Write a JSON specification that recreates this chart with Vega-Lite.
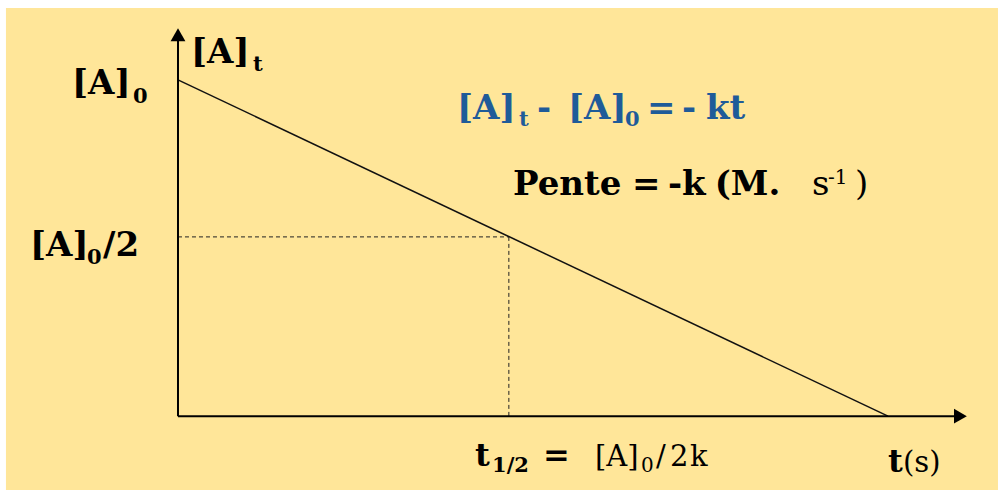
{
  "$schema": "https://vega.github.io/schema/vega-lite/v6.json",
  "width": 998,
  "height": 491,
  "autosize": {"type": "fit", "contains": "padding"},
  "padding": 0,
  "background": "white",
  "config": {"view": {"stroke": null}, "text": {"font": "DejaVu Serif"}},
  "datasets": {
    "panel": [{"t": -24.23, "t2": 115.49, "A": -21.96, "A2": 121.36}],
    "decay": [{"t": 0, "A": 100}, {"t": 100, "A": 0}],
    "guides": [{"t": 0, "A": 53.3, "t2": 46.6, "A2": 53.3}, {"t": 46.6, "A": 53.3, "t2": 46.6, "A2": 0}],
    "axes": [{"t": 0, "A": 0, "t2": 0, "A2": 113.4}, {"t": 0, "A": 0, "t2": 110.2, "A2": 0}],
    "arrowUp": [{"t": 0, "A": 113.4}],
    "arrowRight": [{"t": 110.2, "A": 0}],
    "boldBig": [
      {"t": 1.83, "A": 105.04, "label": "[A]"},
      {"t": -14.93, "A": 95.85, "label": "[A]"},
      {"t": -20.85, "A": 47.48, "label": "[A]"},
      {"t": -10.56, "A": 47.48, "label": "/2"},
      {"t": 47.18, "A": 65.88, "label": "Pente"},
      {"t": 63.94, "A": 65.88, "label": "="},
      {"t": 69.01, "A": 65.88, "label": "-k"},
      {"t": 75.60, "A": 65.88, "label": "(M."}
    ],
    "boldSub": [
      {"t": 10.56, "A": 102.67, "label": "t"},
      {"t": -6.34, "A": 93.18, "label": "0"},
      {"t": -12.82, "A": 45.10, "label": "0"},
      {"t": 44.23, "A": -16.62, "label": "1/2"}
    ],
    "blueBig": [
      {"t": 39.30, "A": 88.43, "label": "[A]"},
      {"t": 50.56, "A": 88.43, "label": "-"},
      {"t": 54.93, "A": 88.43, "label": "[A]"},
      {"t": 66.06, "A": 88.43, "label": "="},
      {"t": 70.99, "A": 88.43, "label": "-"},
      {"t": 74.37, "A": 88.43, "label": "kt"}
    ],
    "blueSub": [
      {"t": 48.03, "A": 86.35, "label": "t"},
      {"t": 62.96, "A": 86.35, "label": "0"}
    ],
    "regBig": [
      {"t": 89.30, "A": 65.88, "label": "s"},
      {"t": 95.35, "A": 65.88, "label": ")"}
    ],
    "regSup": [
      {"t": 91.55, "A": 69.14, "label": "-1"},
      {"t": 65.21, "A": -16.62, "label": "0"}
    ],
    "regMid": [
      {"t": 58.73, "A": -14.84, "label": "[A]"},
      {"t": 67.32, "A": -14.84, "label": "/"},
      {"t": 69.30, "A": -14.84, "label": "2"},
      {"t": 72.11, "A": -14.84, "label": "k"},
      {"t": 102.11, "A": -16.62, "label": "(s)"}
    ],
    "boldMid": [
      {"t": 41.83, "A": -14.84, "label": "t"},
      {"t": 51.41, "A": -14.84, "label": "="},
      {"t": 100.0, "A": -16.62, "label": "t"}
    ]
  },
  "encoding": {
    "x": {"field": "t", "type": "quantitative", "scale": {"domain": [-25.07, 115.493], "nice": false, "zero": false}, "axis": null},
    "y": {"field": "A", "type": "quantitative", "scale": {"domain": [-21.958, 123.739], "nice": false, "zero": false}, "axis": null}
  },
  "layer": [
    {"data": {"name": "panel"}, "mark": {"type": "rect", "color": "#FFE699"}, "encoding": {"x2": {"field": "t2"}, "y2": {"field": "A2"}}},
    {"data": {"name": "guides"}, "mark": {"type": "rule", "color": "#222222", "strokeWidth": 1, "strokeDash": [4, 3]}, "encoding": {"x2": {"field": "t2"}, "y2": {"field": "A2"}}},
    {"data": {"name": "decay"}, "mark": {"type": "line", "color": "#111111", "strokeWidth": 1.5}, "encoding": {}},
    {"data": {"name": "axes"}, "mark": {"type": "rule", "color": "#000000", "strokeWidth": 2}, "encoding": {"x2": {"field": "t2"}, "y2": {"field": "A2"}}},
    {"data": {"name": "arrowUp"}, "mark": {"type": "point", "shape": "triangle-up", "size": 220, "filled": true, "color": "#000000", "opacity": 1}},
    {"data": {"name": "arrowRight"}, "mark": {"type": "point", "shape": "triangle-right", "size": 220, "filled": true, "color": "#000000", "opacity": 1}},
    {"data": {"name": "boldBig"}, "mark": {"type": "text", "align": "left", "baseline": "alphabetic", "fontWeight": "bold", "fontSize": 34, "color": "#000000"}, "encoding": {"text": {"field": "label"}}},
    {"data": {"name": "boldSub"}, "mark": {"type": "text", "align": "left", "baseline": "alphabetic", "fontWeight": "bold", "fontSize": 21, "color": "#000000"}, "encoding": {"text": {"field": "label"}}},
    {"data": {"name": "blueBig"}, "mark": {"type": "text", "align": "left", "baseline": "alphabetic", "fontWeight": "bold", "fontSize": 34, "color": "#1F5B99"}, "encoding": {"text": {"field": "label"}}},
    {"data": {"name": "blueSub"}, "mark": {"type": "text", "align": "left", "baseline": "alphabetic", "fontWeight": "bold", "fontSize": 21, "color": "#1F5B99"}, "encoding": {"text": {"field": "label"}}},
    {"data": {"name": "regBig"}, "mark": {"type": "text", "align": "left", "baseline": "alphabetic", "fontSize": 34, "color": "#000000"}, "encoding": {"text": {"field": "label"}}},
    {"data": {"name": "regSup"}, "mark": {"type": "text", "align": "left", "baseline": "alphabetic", "fontSize": 20, "color": "#000000"}, "encoding": {"text": {"field": "label"}}},
    {"data": {"name": "regMid"}, "mark": {"type": "text", "align": "left", "baseline": "alphabetic", "fontSize": 29, "color": "#000000"}, "encoding": {"text": {"field": "label"}}},
    {"data": {"name": "boldMid"}, "mark": {"type": "text", "align": "left", "baseline": "alphabetic", "fontWeight": "bold", "fontSize": 32, "color": "#000000"}, "encoding": {"text": {"field": "label"}}}
  ]
}
